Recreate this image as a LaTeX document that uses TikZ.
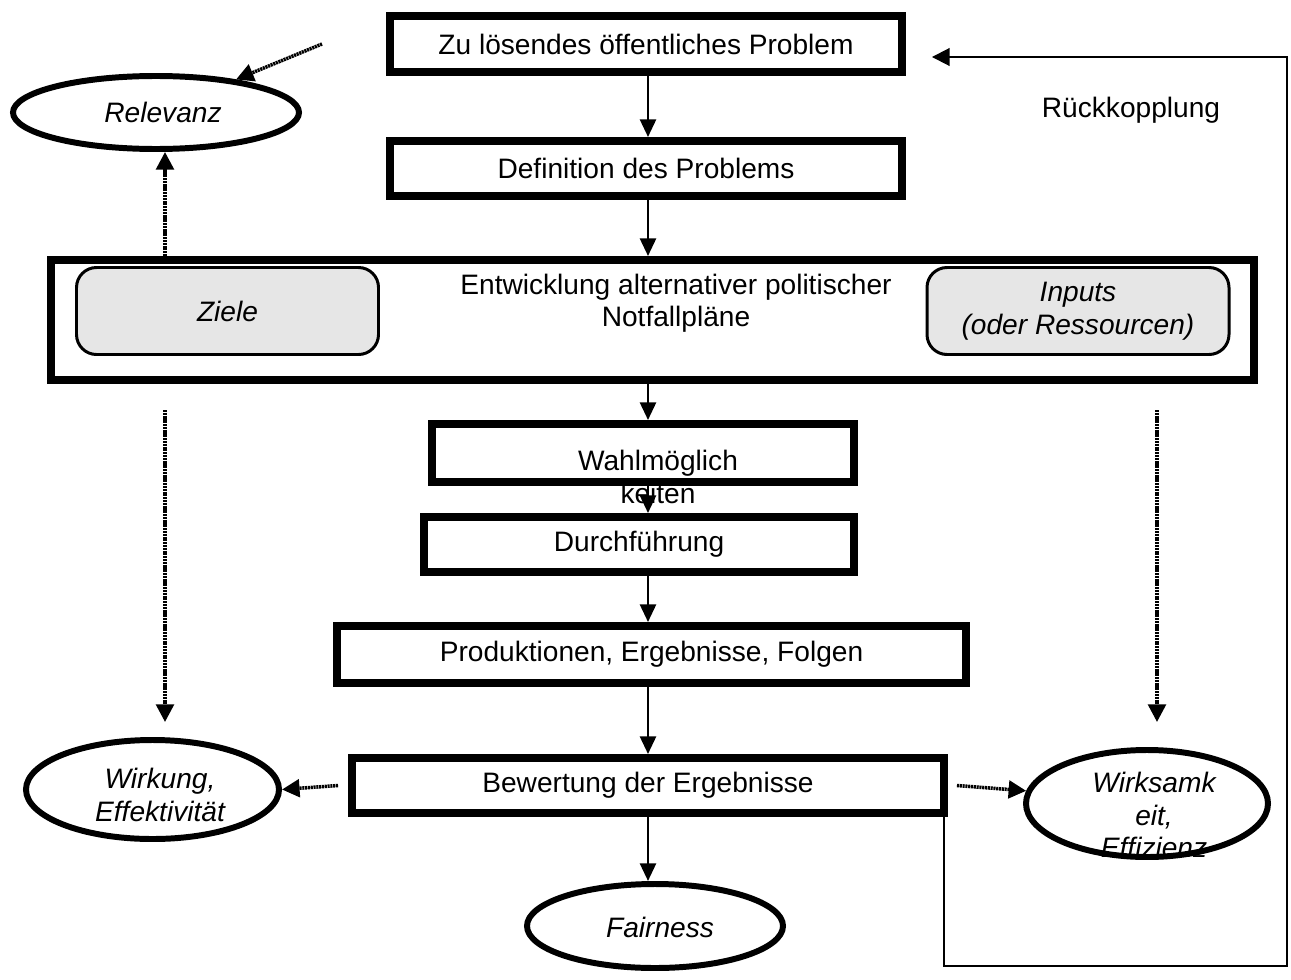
\documentclass[tikz,border=0pt]{standalone}
\usepackage{fontspec}
\setmainfont{Liberation Sans}
\usetikzlibrary{shapes.geometric,arrows.meta,calc}
\definecolor{boxgray}{HTML}{E6E6E6}
% one pixel of the drawing
\def\px{0.02cm}
\tikzset{
  procbox/.style = {draw, line width=4.5pt, inner sep=0pt, align=center},
  goalbox/.style = {draw, line width=1.7pt, rounded corners=0.4cm, fill=boxgray,
                    inner sep=0pt, align=center, font=\itshape},
  critell/.style = {draw, ellipse, line width=3.4pt, inner sep=0pt, align=center,
                    font=\itshape},
  plaintext/.style = {inner sep=0pt, align=center},
  flowarrow/.style = {line width=1.6pt, -{Triangle[length=10pt,width=9pt]}},
  dotarrow/.style = {line width=2pt, dash pattern=on 1.2pt off 0.4pt,
                     -{Triangle[length=10pt,width=10pt]}},
  fbline/.style = {line width=1.1pt, -{Triangle[length=10pt,width=10pt]}}
}
\begin{document}
\fontsize{16}{18.5}\selectfont
\begin{tikzpicture}[x=\px,y=-\px]
    \useasboundingbox (0,0) rectangle (1291,980);
    % Main chain of boxes
    \node[procbox, minimum width=512*\px, minimum height=56*\px] (problem) at (646,44) {Zu lösendes öffentliches Problem};
    \node[procbox, minimum width=512*\px, minimum height=55*\px] (defin) at (646,168.5) {Definition des Problems};
    \node[procbox, minimum width=1203*\px, minimum height=120*\px] (entw) at (652.5,320) {};
    \node[plaintext] (entwtext) at (676,303) {Entwicklung alternativer politischer\\Notfallpläne};
    \node[procbox, minimum width=422*\px, minimum height=58*\px] (wahl) at (643,453) {};
    \node[plaintext] (wahltext) at (658,477) {Wahlmöglich\\keiten};
    \node[procbox, minimum width=430*\px, minimum height=55*\px] (durch) at (639,544.5) {Durchführung};
    \node[procbox, minimum width=629*\px, minimum height=57*\px] (prod) at (651.5,654.5) {Produktionen, Ergebnisse, Folgen};
    \node[procbox, minimum width=592*\px, minimum height=55*\px] (bew) at (648,785.5) {Bewertung der Ergebnisse};
    % Goals and inputs inside the big box
    \node[goalbox, minimum width=302*\px, minimum height=87*\px] (ziele) at (227.5,311) {Ziele};
    \node[goalbox, minimum width=302*\px, minimum height=87*\px] (inputs) at (1078,311) {Inputs\\(oder Ressourcen)};
    % Criteria ellipses
    \node[critell, minimum width=286*\px, minimum height=73*\px] (relevanz) at (156,112.5) {};
    \node[plaintext, font=\itshape] (relevanztext) at (163,112) {Relevanz};
    \node[critell, minimum width=253*\px, minimum height=99*\px] (wirkung) at (152.5,789.5) {};
    \node[plaintext, font=\itshape] (wirkungtext) at (160,795) {Wirkung,\\Effektivität};
    \node[plaintext, font=\itshape] (wirksamtext) at (1154,815) {Wirksamk\\eit,\\Effizienz};
    \node[critell, minimum width=242*\px, minimum height=107*\px] (wirksam) at (1147,803.5) {};
    \node[critell, minimum width=256*\px, minimum height=84*\px] (fair) at (655,926) {};
    \node[plaintext, font=\itshape] (fairtext) at (660,927) {Fairness};
    % Feedback label
    \node[plaintext] (rueck) at (1131,110) {Rückkopplung};
    % Solid arrows down the chain
    \coordinate (ax) at (648,0);
    \foreach \from/\to in {problem/defin, defin/entw, entw/wahl, wahl/durch, durch/prod, prod/bew, bew/fair}
    \draw[flowarrow] (\from.south -| ax) -- (\to.north -| ax);
    % Dotted arrows to the criteria
    \coordinate (relsrc) at (322,44);
    \draw[dotarrow] (relsrc) -- (relevanz);
    \coordinate (dl) at (165,0);
    \draw[dotarrow] (entw.north -| dl) -- (dl |- relevanz.south);
    \foreach \xx in {165,1157} {
    \coordinate (dtop\xx) at (\xx,410);
    \coordinate (dbot\xx) at (\xx,722);
    \draw[dotarrow] (dtop\xx) -- (dbot\xx);
    }
    \draw[dotarrow] ($(bew.west)+(-10,0)$) -- (wirkung.east);
    \draw[dotarrow] ($(bew.east)+(9,0)$) -- (wirksam.174);
    % Feedback loop back to the problem
    \coordinate (fbbottom) at (1287,966);
    \coordinate (fbtop) at (1287,57);
    \draw[fbline] ($(bew.south east)+(-4,0)$) |- (fbbottom) -- (fbtop) -- ($(problem.east)+(26,13)$);
\end{tikzpicture}
\end{document}
